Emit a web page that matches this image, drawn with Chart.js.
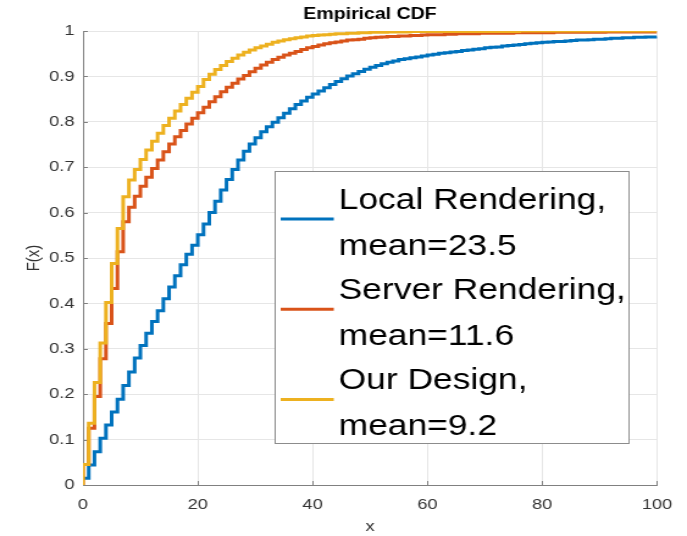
<!DOCTYPE html>
<html>
<head>
<meta charset="utf-8">
<script src="https://cdn.jsdelivr.net/npm/chart.js@4.4.1/dist/chart.umd.min.js"></script>
<style>
  html, body { margin: 0; padding: 0; background: #fff; }
</style>
</head>
<body>
<!-- drawn at 563px wide, shown at 687px: the reference figure is stretched sideways -->
<canvas id="cdfChart" width="563" height="536" style="width:687px;height:536px;display:block"></canvas>
<script>
// ECDF at integer x; first entry is where each staircase starts
const xValues = [0, 0, 1, 2, 3, 4, 5, 6, 7, 8, 9, 10, 11, 12, 13, 14, 15, 16, 17, 18, 19, 20,
    21, 22, 23, 24, 25, 26, 27, 28, 29, 30, 31, 32, 33, 34, 35, 36, 37, 38, 39, 40,
    41, 42, 43, 44, 45, 46, 47, 48, 49, 50, 51, 52, 53, 54, 55, 56, 57, 58, 59, 60,
    61, 62, 63, 64, 65, 66, 67, 68, 69, 70, 71, 72, 73, 74, 75, 76, 77, 78, 79, 80,
    81, 82, 83, 84, 85, 86, 87, 88, 89, 90, 91, 92, 93, 94, 95, 96, 97, 98, 99, 100];

const localRendering = [0.015, 0.015, 0.044, 0.073, 0.103, 0.132, 0.161, 0.189, 0.219, 0.249, 0.280, 0.307,
    0.334, 0.360, 0.384, 0.410, 0.436, 0.461, 0.485, 0.508, 0.528, 0.551,
    0.575, 0.600, 0.625, 0.650, 0.673, 0.695, 0.716, 0.735, 0.751, 0.765,
    0.778, 0.789, 0.799, 0.809, 0.819, 0.829, 0.838, 0.846, 0.854, 0.861,
    0.868, 0.875, 0.882, 0.889, 0.895, 0.901, 0.906, 0.911, 0.916, 0.920,
    0.924, 0.928, 0.931, 0.934, 0.937, 0.939, 0.941, 0.943, 0.945, 0.947,
    0.949, 0.951, 0.952, 0.954, 0.955, 0.957, 0.958, 0.960, 0.961, 0.963,
    0.964, 0.965, 0.967, 0.968, 0.969, 0.970, 0.972, 0.973, 0.974, 0.975,
    0.976, 0.977, 0.977, 0.978, 0.979, 0.980, 0.980, 0.981, 0.982, 0.982,
    0.983, 0.984, 0.984, 0.985, 0.985, 0.986, 0.986, 0.987, 0.987, 0.988];

const serverRendering = [0, 0.045, 0.125, 0.195, 0.278, 0.356, 0.433, 0.514, 0.580, 0.612, 0.636, 0.658,
    0.678, 0.697, 0.716, 0.734, 0.751, 0.767, 0.781, 0.795, 0.808, 0.820,
    0.832, 0.844, 0.855, 0.866, 0.876, 0.885, 0.894, 0.902, 0.910, 0.918,
    0.925, 0.931, 0.937, 0.942, 0.947, 0.951, 0.955, 0.959, 0.963, 0.966,
    0.969, 0.972, 0.974, 0.976, 0.978, 0.980, 0.981, 0.982, 0.984, 0.985,
    0.986, 0.987, 0.988, 0.988, 0.989, 0.989, 0.990, 0.990, 0.991, 0.992,
    0.992, 0.992, 0.993, 0.993, 0.994, 0.994, 0.994, 0.994, 0.995, 0.995,
    0.995, 0.995, 0.995, 0.995, 0.996, 0.996, 0.996, 0.996, 0.996, 0.996,
    0.996, 0.997, 0.997, 0.997, 0.997, 0.997, 0.997, 0.997, 0.997, 0.997,
    0.998, 0.998, 0.998, 0.998, 0.998, 0.998, 0.998, 0.998, 0.998, 0.998];

const ourDesign = [0, 0.045, 0.136, 0.226, 0.313, 0.402, 0.488, 0.565, 0.635, 0.672, 0.695, 0.717,
    0.738, 0.757, 0.775, 0.792, 0.808, 0.824, 0.838, 0.852, 0.865, 0.878,
    0.893, 0.905, 0.915, 0.924, 0.933, 0.940, 0.947, 0.953, 0.958, 0.963,
    0.967, 0.971, 0.975, 0.978, 0.981, 0.983, 0.985, 0.987, 0.989, 0.990,
    0.991, 0.992, 0.993, 0.994, 0.994, 0.995, 0.995, 0.996, 0.996, 0.997,
    0.997, 0.997, 0.998, 0.998, 0.998, 0.998, 0.999, 0.999, 0.999, 0.999,
    0.999, 0.999, 0.999, 0.999, 0.999, 0.999, 0.999, 0.999, 0.999, 0.999,
    0.999, 0.999, 0.999, 0.999, 0.999, 1, 1, 1, 1, 1,
    1, 1, 1, 1, 1, 1, 1, 1, 1, 1,
    1, 1, 1, 1, 1, 1, 1, 1, 1, 1];

const seriesNames = ['Local Rendering,', 'Server Rendering,', 'Our Design,'];
const seriesMeans = ['23.5', '11.6', '9.2'];
const seriesColors = ['#0072BD', '#D95319', '#EDB120'];
const seriesValues = [localRendering, serverRendering, ourDesign];

const xTicks = [0, 20, 40, 60, 80, 100];
const yTicks = [0, 0.1, 0.2, 0.3, 0.4, 0.5, 0.6, 0.7, 0.8, 0.9, 1];
const yTickLabels = ['0', '0.1', '0.2', '0.3', '0.4', '0.5', '0.6', '0.7', '0.8', '0.9', '1'];

const FONT = "'Liberation Sans', Arial, Helvetica, sans-serif";
const AXIS_COLOR = '#808080';

// MATLAB style ticks pointing into the axes
const inwardTicks = {
    id: 'inwardTicks',
    beforeDatasetsDraw(chart) {
        const { ctx, chartArea, scales } = chart;
        ctx.save();
        ctx.strokeStyle = AXIS_COLOR;
        ctx.lineWidth = 1;
        ctx.beginPath();
        xTicks.forEach(v => {
            const x = Math.round(scales.x.getPixelForValue(v)) + 0.5;
            ctx.moveTo(x, chartArea.bottom);
            ctx.lineTo(x, chartArea.bottom - 4);
        });
        yTicks.forEach(v => {
            const y = Math.round(scales.y.getPixelForValue(v)) + 0.5;
            ctx.moveTo(chartArea.left, y);
            ctx.lineTo(chartArea.left + 4, y);
        });
        ctx.stroke();
        ctx.restore();
    }
};

// boxed legend with two-line entries
const cdfLegend = {
    id: 'cdfLegend',
    afterDraw(chart) {
        const ctx = chart.ctx;
        const box = { left: 225.5, top: 171.5, right: 515.5, bottom: 443.5 };
        ctx.save();
        ctx.fillStyle = '#fff';
        ctx.fillRect(box.left, box.top, box.right - box.left, box.bottom - box.top);
        ctx.strokeStyle = '#8c8c8c';
        ctx.lineWidth = 1;
        ctx.strokeRect(box.left, box.top, box.right - box.left, box.bottom - box.top);
        ctx.font = '29px ' + FONT;
        ctx.textBaseline = 'alphabetic';
        ctx.textAlign = 'left';
        chart.data.datasets.forEach((ds, i) => {
            const y0 = 208.5 + i * 90.2;
            ctx.strokeStyle = ds.borderColor;
            ctx.lineWidth = 3;
            ctx.beginPath();
            ctx.moveTo(230, y0 + 10.5);
            ctx.lineTo(273.5, y0 + 10.5);
            ctx.stroke();
            ctx.fillStyle = '#000';
            ctx.fillText(seriesNames[i], 277.5, y0);
            ctx.fillText('mean=' + seriesMeans[i], 277.5, y0 + 46.5);
        });
        ctx.restore();
    }
};

new Chart(document.getElementById('cdfChart'), {
    type: 'line',
    data: {
        datasets: seriesValues.map((vals, i) => ({
            label: seriesNames[i] + ' mean=' + seriesMeans[i],
            data: vals.map((v, j) => ({ x: xValues[j], y: v })),
            borderColor: seriesColors[i],
            backgroundColor: seriesColors[i],
            borderWidth: 3,
            stepped: true,
            pointRadius: 0,
            fill: false,
            order: 3 - i
        }))
    },
    options: {
        responsive: false,
        devicePixelRatio: 1,
        animation: false,
        events: [],
        layout: { padding: { left: 0, right: 24.6, top: 0, bottom: 0 } },
        plugins: {
            legend: { display: false },
            tooltip: { enabled: false },
            title: {
                display: true,
                text: 'Empirical CDF',
                fullSize: false,
                color: '#000',
                font: { family: FONT, size: 16, weight: 'bold', lineHeight: 1.2 },
                padding: { top: 5.4, bottom: 6.4 }
            }
        },
        scales: {
            x: {
                type: 'linear',
                min: 0,
                max: 100,
                afterBuildTicks: s => { s.ticks = xTicks.map(v => ({ value: v })); },
                afterFit: s => { s.height = 51; },
                grid: { color: '#e6e6e6', drawTicks: false },
                border: { color: AXIS_COLOR, width: 1 },
                ticks: { color: '#333', padding: 11, font: { family: FONT, size: 15 } },
                title: {
                    display: true, text: 'x', color: '#333',
                    font: { family: FONT, size: 15, lineHeight: 1.2 },
                    padding: { top: 0, bottom: 0 }
                }
            },
            y: {
                min: 0,
                max: 1,
                afterBuildTicks: s => { s.ticks = yTicks.map(v => ({ value: v })); },
                afterFit: s => { s.width = 68; },
                grid: { color: '#e6e6e6', drawTicks: false },
                border: { color: AXIS_COLOR, width: 1 },
                ticks: {
                    color: '#333', padding: 7, font: { family: FONT, size: 15 },
                    callback: (v, i) => yTickLabels[i]
                },
                title: {
                    display: true, text: 'F(x)', color: '#333',
                    font: { family: FONT, size: 15, lineHeight: 1.2 },
                    padding: { top: 19, bottom: 0 }
                }
            }
        }
    },
    plugins: [inwardTicks, cdfLegend]
});
</script>
</body>
</html>
